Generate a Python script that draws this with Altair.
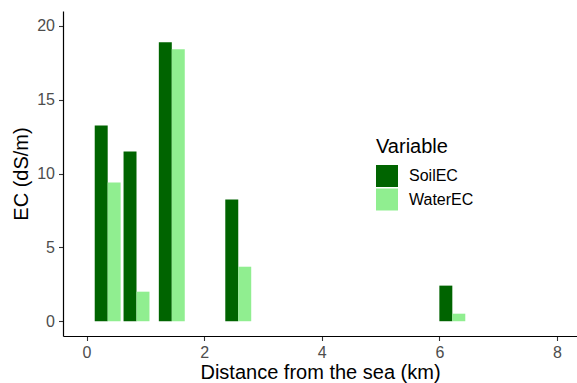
import altair as alt
import pandas as pd

# Data
distance_km = [0.36, 0.85, 1.45, 2.58, 6.22]
soil_ec = [13.25, 11.49, 18.88, 8.24, 2.41]
water_ec = [9.39, 2.00, 18.41, 3.69, 0.51]
variables = ["SoilEC", "WaterEC"]
colors = ["#006400", "#90EE90"]

rows = []
for d, s, w in zip(distance_km, soil_ec, water_ec):
    rows.append({"Distance": d, "Variable": "SoilEC", "EC": s})
    rows.append({"Distance": d, "Variable": "WaterEC", "EC": w})
df = pd.DataFrame(rows)

half = 0.2205  # dodge half-width (km)

chart = (
    alt.Chart(df)
    .transform_calculate(
        x0=f"datum.Variable == 'SoilEC' ? datum.Distance - {half} : datum.Distance",
        x1=f"datum.Variable == 'SoilEC' ? datum.Distance : datum.Distance + {half}",
    )
    .mark_rect()
    .encode(
        x=alt.X(
            "x0:Q",
            scale=alt.Scale(domain=[-0.4, 8.34], nice=False, zero=False),
            axis=alt.Axis(
                title="Distance from the sea (km)",
                values=[0, 2, 4, 6, 8],
                format="d",
                titlePadding=2,
                labelPadding=4,
            ),
        ),
        x2="x1:Q",
        y=alt.Y(
            "EC:Q",
            scale=alt.Scale(domain=[-1, 21], nice=False, zero=False),
            axis=alt.Axis(
                title="EC (dS/m)",
                values=[0, 5, 10, 15, 20],
                titlePadding=5,
                labelPadding=4,
            ),
        ),
        y2=alt.datum(0),
        color=alt.Color(
            "Variable:N",
            scale=alt.Scale(domain=variables, range=colors),
            legend=alt.Legend(
                title="Variable",
                orient="none",
                legendX=313,
                legendY=126,
                symbolType="square",
                symbolSize=484,
                symbolStrokeWidth=0,
                symbolOpacity=1,
                labelOffset=11,
                rowPadding=1.5,
                titlePadding=8,
                padding=0,
            ),
        ),
    )
    .properties(
        width=514,
        height=325,
        autosize=alt.AutoSizeParams(type="none"),
        padding={"left": 63, "top": 11, "right": 0, "bottom": 47},
        background="white",
    )
    .configure(font="Liberation Sans")
    .configure_view(stroke=None, strokeWidth=0)
    .configure_axis(
        grid=False,
        domainColor="black",
        domainWidth=1.2,
        tickColor="#333333",
        tickWidth=1.1,
        tickSize=4.5,
        labelColor="#4D4D4D",
        labelFontSize=16,
        labelFont="Liberation Sans",
        titleFontSize=20,
        titleFontWeight="normal",
        titleColor="black",
        titleFont="Liberation Sans",
    )
    .configure_legend(
        titleFontSize=20,
        titleFontWeight="normal",
        titleColor="black",
        titleFont="Liberation Sans",
        labelFontSize=16,
        labelColor="black",
        labelFont="Liberation Sans",
    )
)

chart.save("out.html", embed_options={"renderer": "svg", "actions": False})
